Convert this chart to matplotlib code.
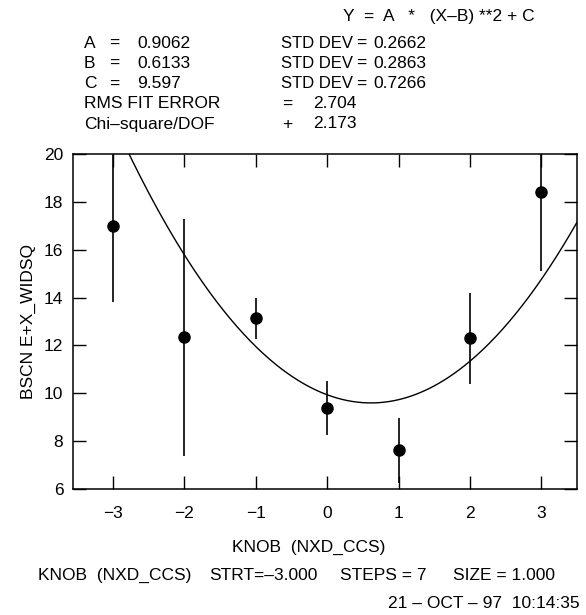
import numpy as np
import matplotlib
matplotlib.use("Agg")
import matplotlib.pyplot as plt

# measured points (knob setting vs BSCN E+X_WIDSQ) with error bars
knob = [-3, -2, -1, 0, 1, 2, 3]
widsq = [17.0, 12.35, 13.13, 9.38, 7.61, 12.3, 18.43]
widsq_err = [3.2, 4.95, 0.85, 1.13, 1.37, 1.9, 3.3]

# fit parameters  Y = A*(X-B)**2 + C
fit_A, fit_B, fit_C = 0.9062, 0.6133, 9.597
fit_labels = ["A", "B", "C"]
fit_values = ["0.9062", "0.6133", "9.597"]
fit_stddev = ["0.2662", "0.2863", "0.7266"]
rms_fit_error = "2.704"
chi2_dof = "2.173"

xticks = [-3, -2, -1, 0, 1, 2, 3]
yticks = [6, 8, 10, 12, 14, 16, 18, 20]

plt.rcParams['font.family'] = ['Liberation Sans', 'DejaVu Sans']
fs = 12.5

W, H = 586, 615
fig = plt.figure(figsize=(W / 100, H / 100), dpi=100)
ax = fig.add_axes([73 / W, 1 - 489 / H, (577 - 73) / W, (489 - 154) / H])

def ftext(x, y, s, size=fs, **kw):
    # place text using pixel coords of the reference (y from top)
    fig.text(x / W, 1 - y / H, s, fontsize=size, va='center', **kw)

# fit curve
xs = np.linspace(-3.56, 3.5, 300)
ax.plot(xs, fit_A * (xs - fit_B) ** 2 + fit_C, color='black', lw=1.0)

# data with error bars
ax.errorbar(knob, widsq, yerr=widsq_err, fmt='o', color='black',
            ms=8, elinewidth=1.2, capsize=0)

ax.set_xlim(-3.56, 3.5)
ax.set_ylim(6, 20)
ax.set_xticks(xticks)
ax.set_yticks(yticks)
ax.tick_params(direction='in', length=9.4, width=1.0, top=True, right=True,
               labelsize=fs)
ax.tick_params(axis='x', pad=12)
ax.tick_params(axis='y', pad=7)
for sp in ax.spines.values():
    sp.set_linewidth(1.1)

ax.set_ylabel('BSCN E+X_WIDSQ', fontsize=fs, labelpad=6)
ftext(232, 547, 'KNOB  (NXD_CCS)', ha='left')

# header: fit formula and parameters
ftext(343, 17, 'Y  =  A   *   (X–B) **2 + C', ha='left')
rows_y = [43, 63, 84, 104, 124]
for i in range(3):
    ftext(84, rows_y[i], fit_labels[i], ha='left')
    ftext(109, rows_y[i], '=', ha='left')
    ftext(137, rows_y[i], fit_values[i], ha='left')
    ftext(281, rows_y[i], 'STD DEV', size=12, ha='left')
    ftext(356, rows_y[i], '=', ha='left')
    ftext(373, rows_y[i], fit_stddev[i], ha='left')
ftext(84, rows_y[3], 'RMS FIT ERROR', ha='left')
ftext(282, rows_y[3], '=', ha='left')
ftext(313, rows_y[3], rms_fit_error, ha='left')
ftext(84, rows_y[4], 'Chi–square/DOF', ha='left')
ftext(282, rows_y[4], '+', ha='left')
ftext(313, rows_y[4], chi2_dof, ha='left')

# footer
ftext(38, 575, 'KNOB  (NXD_CCS)', ha='left')
ftext(209, 575, 'STRT=–3.000', ha='left')
ftext(426, 575, 'STEPS = 7', ha='right')
ftext(555, 575, 'SIZE = 1.000', ha='right')
ftext(580, 604, '21 – OCT – 97  10:14:35', ha='right')

fig.savefig('out.png', dpi=100)
